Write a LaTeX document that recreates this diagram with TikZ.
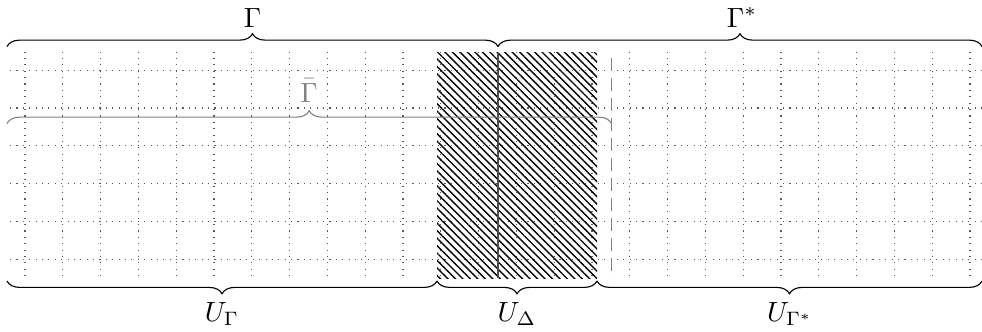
\documentclass[tikz,border=0pt]{standalone}
\usetikzlibrary{decorations.pathreplacing,patterns.meta}
\begin{document}
\begin{tikzpicture}[x=0.36pt,y=-0.36pt,
  gridline/.style={black!65, dash pattern=on 0.4pt off 1.9pt},
  bracedec/.style={decorate, decoration={brace, amplitude=4.6pt}},
  bracedecm/.style={decorate, decoration={brace, amplitude=4.6pt, mirror}},
  lab/.style={inner sep=0pt},
  hatch/.style={pattern={Lines[angle=-45, distance=1.9pt, line width=0.5pt]}, pattern color=black},
  splitline/.style={black!70, line width=0.6pt},
  dashline/.style={gray, dash pattern=on 4.8pt off 2.4pt, line width=0.45pt},
]
\useasboundingbox (0,0) rectangle (982,331);
% grid
\foreach \k in {0,...,5} \draw[gridline] (10,70.2+37.8*\k) -- (982,70.2+37.8*\k);
\foreach \k in {0,...,25} \draw[gridline] (25+37.8*\k,51.5) -- (25+37.8*\k,278);
% hatched strip
\fill[hatch] (437,52.5) rectangle (597,278);
% separating lines
\coordinate (midT) at (498,52.5);
\coordinate (midB) at (498,278);
\draw[splitline] (midT) -- (midB);
\coordinate (dashT) at (611.5,58);
\coordinate (dashB) at (611.5,278);
\draw[dashline] (dashT) -- (dashB);
% top braces
\coordinate (GL) at (7,46.5);
\coordinate (GM) at (498,46.5);
\coordinate (GR) at (982,46.5);
\draw[bracedec] (GL) -- (GM);
\draw[bracedec] (GM) -- (GR);
\node[lab, anchor=base] (Gam) at (252.5,27) {$\Gamma$};
\node[lab, anchor=base] (GamS) at (742,27) {$\Gamma^*$};
% bar brace
\coordinate (BL) at (7,123.5);
\coordinate (BR) at (611.5,123.5);
\draw[bracedec, gray] (BL) -- (BR);
\node[lab, anchor=base, text=gray] (GamBar) at (309,102) {$\bar\Gamma$};
% bottom braces
\coordinate (UL) at (7,281);
\coordinate (U1) at (437,281);
\coordinate (U2) at (597,281);
\coordinate (UR) at (982,281);
\draw[bracedecm] (UL) -- (U1);
\draw[bracedecm] (U1) -- (U2);
\draw[bracedecm] (U2) -- (UR);
\node[lab, anchor=north] (UG) at (222,302) {$U_\Gamma$};
\node[lab, anchor=north] (UD) at (517,302) {$U_\Delta$};
\node[lab, anchor=north] (UGs) at (790,302) {$U_{\Gamma^*}$};
\end{tikzpicture}
\end{document}
